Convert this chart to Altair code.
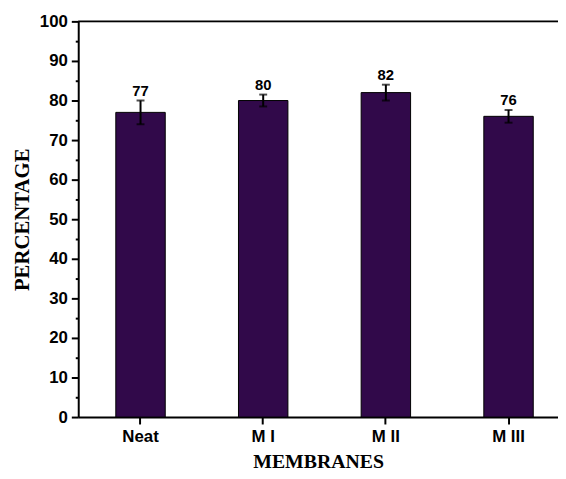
import altair as alt
import pandas as pd

categories = ["Neat", "M I", "M II", "M III"]
values = [77, 80, 82, 76]
errors = [3.0, 1.5, 2.0, 1.6]
ytick_values = [0, 5, 10, 15, 20, 25, 30, 35, 40, 45, 50, 55, 60, 65, 70, 75, 80, 85, 90, 95, 100]

df = pd.DataFrame({
    "cat": categories,
    "val": values,
    "lo": [v - e for v, e in zip(values, errors)],
    "hi": [v + e for v, e in zip(values, errors)],
})

W = 485
H = 400

xscale = alt.Scale(domain=categories, paddingInner=0.597, paddingOuter=0.254, align=0.603)
yscale = alt.Scale(domain=[0, 100], nice=False)

xaxis = alt.Axis(
    title="MEMBRANES", titleFont="Liberation Serif", titleFontSize=20, titleFontWeight="bold",
    titleColor="black", titleY=51, titleBaseline="alphabetic",
    labelFont="Liberation Sans", labelFontSize=17, labelFontWeight="bold", labelColor="black",
    labelAngle=0, labelPadding=5, tickSize=7, tickWidth=2, tickColor="black",
    domainColor="black", domainWidth=2,
)
yaxis = alt.Axis(
    title="PERCENTAGE", titleFont="Liberation Serif", titleFontSize=21, titleFontWeight="bold",
    titleColor="black", titlePadding=7,
    labelFont="Liberation Sans", labelFontSize=17, labelFontWeight="bold", labelColor="black",
    labelPadding=4, values=ytick_values, labelOverlap=False,
    labelExpr="datum.value % 10 === 0 ? datum.label : ''",
    tickSize={"condition": {"test": "datum.value % 10 === 0", "value": 7}, "value": 3},
    tickWidth=2, tickColor="black", domainColor="black", domainWidth=2, grid=False,
)


def xenc():
    return alt.X("cat:N", scale=xscale, axis=xaxis, sort=categories)


def yenc(field):
    return alt.Y(field, scale=yscale, axis=yaxis)


base = alt.Chart(df)

bars = base.mark_bar(color="#31094a", stroke="black", strokeWidth=1).encode(
    x=xenc(),
    y=yenc("val:Q"),
)

err = base.mark_rule(color="black", strokeWidth=2).encode(
    x=xenc(),
    y=yenc("lo:Q"),
    y2="hi:Q",
)
cap_hi = base.mark_tick(color="black", thickness=2, size=8).encode(
    x=xenc(),
    y=yenc("hi:Q"),
)
cap_lo = base.mark_tick(color="black", thickness=2, size=8).encode(
    x=xenc(),
    y=yenc("lo:Q"),
)
labels = base.mark_text(font="Liberation Sans", fontSize=15, fontWeight="bold",
                        color="black", baseline="bottom", dy=-2).encode(
    x=xenc(),
    y=yenc("hi:Q"),
    text="val:Q",
)
topline = alt.Chart(pd.DataFrame({"t": [100]})).mark_rule(color="black", strokeWidth=2).encode(
    y=yenc("t:Q"),
    x=alt.value(0),
    x2=alt.value(W),
)

chart = alt.layer(bars, err, cap_hi, cap_lo, labels, topline).properties(
    width=W, height=H,
    autosize=alt.AutoSizeParams(type="none"),
    padding={"left": 71, "top": 11, "right": 0, "bottom": 52},
).configure_view(stroke=None).configure(background="white")

chart.save("out.html", embed_options={"renderer": "svg", "actions": False})
